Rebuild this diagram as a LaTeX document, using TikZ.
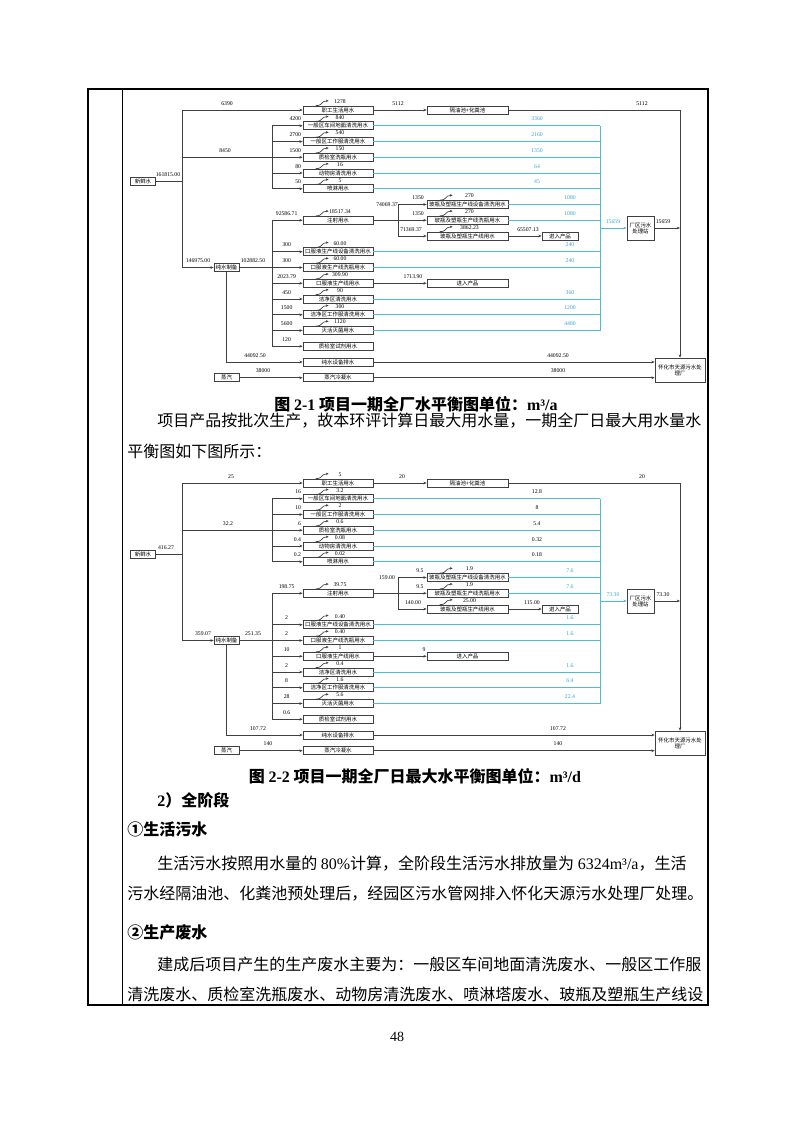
\documentclass[tikz,border=0pt]{standalone}
\usepackage{fontspec}
\setmainfont{Noto Sans CJK SC}
\newfontfamily\numfont{Liberation Serif}
\usetikzlibrary{arrows.meta,calc}
\definecolor{drain}{RGB}{78,188,214}
\definecolor{draintext}{RGB}{55,165,205}

\tikzset{
  wbox/.style={draw=black!75, line width=0.55pt, fill=white, minimum width=52.5pt, minimum height=6pt, inner sep=0pt, font=\fontsize{4.1}{4.6}\selectfont},
  widebox/.style={wbox, minimum width=60.75pt},
  srcbox/.style={wbox, minimum width=18.75pt},
  val/.style={inner sep=0pt, font=\numfont\fontsize{4.3}{4.8}\selectfont},
  num/.style={val, anchor=south, yshift=3.4pt},
  inlab/.style={val, anchor=south east, xshift=-1pt, yshift=3.4pt},
  uselab/.style={val, anchor=south, xshift=1.5pt, yshift=1.5pt},
  pipe/.style={draw=black!75, line width=0.5pt},
  flow/.style={pipe, -{Stealth[length=2.4pt,width=2pt]}},
  drainline/.style={draw=drain, line width=0.75pt},
  txt/.style={anchor=west, inner sep=0pt, font=\fontsize{12}{12}\selectfont},
}

% small curved arrow from a box to its consumption value
\newcommand{\usecurve}[1]{\draw[pipe, -{Stealth[length=2pt,width=1.8pt]}] ([xshift=9.75pt]#1.north west) .. controls +(8,0) and +(-8,0) .. ([xshift=19.5pt,yshift=3.6pt]#1.north west);}

% the structure shared by both balance charts
\newcommand{\balance}{%
  \coordinate (main) at (182,0);
  \coordinate (fanx) at (272,0);
  \coordinate (splitx) at (398,0);
  \coordinate (drainx) at (600,0);
  \coordinate (colA) at (537,0);
  \coordinate (colB) at (570,0);
  % boxes
  \node[srcbox] (fresh) at (143,181) {新鲜水};
  \node[srcbox] (pure) at (226.5,267.5) {纯水制备};
  \node[srcbox] (steam) at (226.5,377.75) {蒸汽};
  \node[wbox] (staff) at (338,110) {职工生活用水};
  \node[wbox] (floor) at (338,125.75) {一般区车间地面清洗用水};
  \node[wbox] (suit) at (338,141.5) {一般区工作服清洗用水};
  \node[wbox] (qc) at (338,157.25) {质检室洗瓶用水};
  \node[wbox] (animal) at (338,173) {动物房清洗用水};
  \node[wbox] (spray) at (338,188.75) {喷淋用水};
  \node[wbox] (inject) at (338,220.25) {注射用水};
  \node[wbox] (oclean) at (338,251.75) {口服液生产线设备清洗用水};
  \node[wbox] (owash) at (338,267.5) {口服液生产线洗瓶用水};
  \node[wbox] (oline) at (338,283.25) {口服液生产线用水};
  \node[wbox] (clean) at (338,299) {洁净区清洗用水};
  \node[wbox] (csuit) at (338,314.75) {洁净区工作服清洗用水};
  \node[wbox] (steril) at (338,330.5) {灭活灭菌用水};
  \node[wbox] (reagent) at (338,346.25) {质检室试剂用水};
  \node[wbox] (purewaste) at (338,362) {纯水设备排水};
  \node[wbox] (cond) at (338,377.75) {蒸汽冷凝水};
  \node[widebox] (septic) at (467.5,110) {隔油池+化粪池};
  \node[widebox] (bclean) at (467.5,204.5) {玻瓶及塑瓶生产线设备清洗用水};
  \node[widebox] (bwash) at (467.5,220.25) {玻瓶及塑瓶生产线洗瓶用水};
  \node[widebox] (bline) at (467.5,236) {玻瓶及塑瓶生产线用水};
  \node[wbox, minimum width=27pt] (prodA) at (560,236) {进入产品};
  \node[widebox] (prodB) at (467.5,283.25) {进入产品};
  \node[wbox, minimum width=20.25pt, minimum height=18pt, align=center] (station) at (640.5,228) {厂区污水\\处理站};
  \node[wbox, minimum width=37.5pt, minimum height=18pt, align=center] (city) at (680,370) {怀化市天源污水处\\理厂};
  % fresh water
  \draw[pipe] (fresh.east) -- (fresh.east -| main);
  \draw[pipe] (staff.west -| main) -- (pure.west -| main);
  \draw[flow] (staff.west -| main) -- (staff.west);
  \draw[flow] (pure.west -| main) -- (pure.west);
  \draw[pipe] (qc.west -| main) -- (qc.west -| fanx);
  \draw[pipe] (floor.west -| fanx) -- (spray.west -| fanx);
  \foreach \b in {floor,suit,qc,animal,spray}
    \draw[flow] (\b.west -| fanx) -- (\b.west);
  % pure water
  \draw[pipe] (pure.east) -- (owash.west -| fanx);
  \draw[pipe] (inject.west -| fanx) -- (reagent.west -| fanx);
  \foreach \b in {inject,oclean,owash,oline,clean,csuit,steril,reagent}
    \draw[flow] (\b.west -| fanx) -- (\b.west);
  \draw[flow] (pure.south) |- (purewaste.west);
  \draw[flow] (steam.east) -- (cond.west);
  % injection water split
  \draw[pipe] (inject.east) -- (inject.east -| splitx);
  \draw[pipe] (bclean.west -| splitx) -- (bline.west -| splitx);
  \foreach \b in {bclean,bwash,bline}
    \draw[flow] (\b.west -| splitx) -- (\b.west);
  \draw[flow] (bline.east) -- (prodA.west);
  \draw[flow] (oline.east) -- (prodB.west);
  % domestic and outlet
  \draw[flow] (staff.east) -- (septic.west);
  \draw[flow] (septic.east) -| (city.north);
  \draw[flow] (purewaste.east) -- (purewaste.east -| city.west);
  \draw[flow] (cond.east) -- (cond.east -| city.west);
  % waste water to the plant station
  \foreach \b in {floor,suit,qc,animal,spray,bclean,bwash,oclean,owash,clean,csuit,steril}
    \draw[drainline] (\b.east) -- (\b.east -| drainx);
  \draw[drainline] (floor.east -| drainx) -- (steril.east -| drainx);
  \draw[drainline, -{Stealth[length=2.4pt,width=2pt]}] (station.west -| drainx) -- (station.west);
  \draw[flow] (station.east) -- (station.east -| city);
  \foreach \b in {staff,floor,suit,qc,animal,spray,inject,bclean,bwash,bline,oclean,owash,oline,clean,csuit,steril}
    \usecurve{\b};
}

\begin{document}
\begin{tikzpicture}[x=0.75pt, y=-0.75pt]
\useasboundingbox (0,0) rectangle (793,1122);
\fill[white] (0,0) rectangle (793,1122);

% table frame
\draw[line width=1.2pt] (88,89) rectangle (708,1005);
\draw[line width=0.75pt] (122,89) -- (122,1005);

% chart 2-1, m3/a
\begin{scope}[name prefix=a-]
\balance
\foreach \b/\v in {floor/4200,suit/2700,qc/1500,animal/80,spray/50}
  \node[inlab] at (\b.west) {\v};
\foreach \b/\v in {inject/92586.71,oclean/300,owash/300,oline/2023.79,clean/450,csuit/1500,steril/5600,reagent/120}
  \node[num] at ([xshift=-12pt]\b.west) {\v};
\foreach \b/\v in {staff/1278,floor/840,suit/540,qc/150,animal/16,spray/5,inject/18517.34,bclean/270,bwash/270,bline/3862.23,oclean/60.00,owash/60.00,oline/309.90,clean/90,csuit/300,steril/1120}
  \node[uselab] at (\b.north) {\v};
\foreach \b/\v in {floor/3360,suit/2160,qc/1350,animal/64,spray/45}
  \node[num, text=draintext] at (\b.east -| colA) {\v};
\foreach \b/\v in {bclean/1080,bwash/1080,oclean/240,owash/240,clean/360,csuit/1200,steril/4480}
  \node[num, text=draintext] at (\b.east -| colB) {\v};
\node[num] at (227,110) {6390};
\node[num] at (398,110) {5112};
\node[num] at (642,110) {5112};
\node[num] at (225,157.25) {8450};
\node[num] at (168,181) {161815.00};
\node[num] at (198,267.5) {146975.00};
\node[num] at (253,267.5) {102882.50};
\node[val] at (387,204.5) {74069.37};
\node[num] at (418,204.5) {1350};
\node[num] at (418,220.25) {1350};
\node[num] at (411,236) {71369.37};
\node[num] at (528,236) {65507.13};
\node[num] at (413,283.25) {1713.90};
\node[num, text=draintext] at (613,228) {15659};
\node[num] at (663,228) {15659};
\node[num] at (255,362) {44092.50};
\node[num] at (558,362) {44092.50};
\node[num] at (263,377.75) {38000};
\node[num] at (558,377.75) {38000};
\end{scope}

\node[txt, anchor=center, font=\bfseries\fontsize{12}{12}\selectfont] (cap1) at (416,404) {图 {\numfont 2-1} 项目一期全厂水平衡图单位：{\numfont m³/a}};
\node[txt] (p1) at (157,421) {项目产品按批次生产，故本环评计算日最大用水量，一期全厂日最大用水量水};
\node[txt] (p2) at (127,451) {平衡图如下图所示：};

% chart 2-2, m3/d
\begin{scope}[shift={(0,373)}, name prefix=b-]
\balance
\foreach \b/\v in {floor/16,suit/10,qc/6,animal/0.4,spray/0.2}
  \node[inlab] at (\b.west) {\v};
\foreach \b/\v in {inject/198.75,oclean/2,owash/2,oline/10,clean/2,csuit/8,steril/28,reagent/0.6}
  \node[num] at ([xshift=-12pt]\b.west) {\v};
\foreach \b/\v in {staff/5,floor/3.2,suit/2,qc/0.6,animal/0.08,spray/0.02,inject/39.75,bclean/1.9,bwash/1.9,bline/25.00,oclean/0.40,owash/0.40,oline/1,clean/0.4,csuit/1.6,steril/5.6}
  \node[uselab] at (\b.north) {\v};
\foreach \b/\v in {floor/12.8,suit/8,qc/5.4,animal/0.32,spray/0.18}
  \node[num] at (\b.east -| colA) {\v};
\foreach \b/\v in {bclean/7.6,bwash/7.6,oclean/1.6,owash/1.6,clean/1.6,csuit/6.4,steril/22.4}
  \node[num, text=draintext] at (\b.east -| colB) {\v};
\node[num] at (231,110) {25};
\node[num] at (402,110) {20};
\node[num] at (642,110) {20};
\node[num] at (228,157.25) {32.2};
\node[num] at (166,181) {416.27};
\node[num] at (203,267.5) {359.07};
\node[num] at (253,267.5) {251.35};
\node[val] at (387,204.5) {159.00};
\node[num] at (420,204.5) {9.5};
\node[num] at (420,220.25) {9.5};
\node[num] at (413,236) {140.00};
\node[num] at (532,236) {115.00};
\node[num] at (424,283.25) {9};
\node[num, text=draintext] at (613,228) {73.30};
\node[num] at (663,228) {73.30};
\node[num] at (258,362) {107.72};
\node[num] at (558,362) {107.72};
\node[num] at (268,377.75) {140};
\node[num] at (558,377.75) {140};
\end{scope}

\node[txt, anchor=center, font=\bfseries\fontsize{12}{12}\selectfont] (cap2) at (415,776) {图 {\numfont 2-2} 项目一期全厂日最大水平衡图单位：{\numfont m³/d}};
\node[txt, font=\bfseries\fontsize{12}{12}\selectfont] (h1) at (157,800) {{\numfont 2}）全阶段};
\node[txt, font=\bfseries\fontsize{12}{12}\selectfont] (h2) at (127,829) {①生活污水};
\node[txt] (p3) at (157,864) {生活污水按照用水量的 {\numfont 80\%}计算，全阶段生活污水排放量为 {\numfont 6324m³/a}，生活};
\node[txt] (p4) at (127,894) {污水经隔油池、化粪池预处理后，经园区污水管网排入怀化天源污水处理厂处理。};
\node[txt, font=\bfseries\fontsize{12}{12}\selectfont] (h3) at (127,932) {②生产废水};
\node[txt] (p5) at (157,964) {建成后项目产生的生产废水主要为：一般区车间地面清洗废水、一般区工作服};
\node[txt] (p6) at (127,994) {清洗废水、质检室洗瓶废水、动物房清洗废水、喷淋塔废水、玻瓶及塑瓶生产线设};
\node[val, font=\numfont\fontsize{10.5}{12}\selectfont] (page) at (397,1037) {48};
\end{tikzpicture}
\end{document}
